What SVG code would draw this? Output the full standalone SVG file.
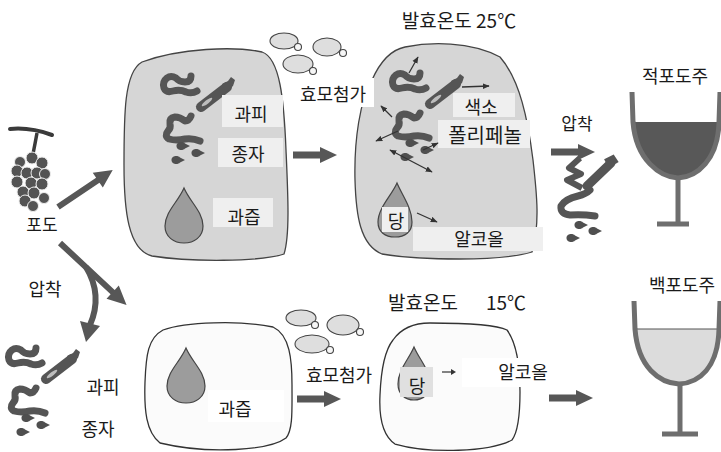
<svg xmlns="http://www.w3.org/2000/svg" xmlns:xlink="http://www.w3.org/1999/xlink" width="721" height="452" viewBox="0 0 721 452">
  <style>
    text { font-family: "Noto Sans CJK KR", "Noto Sans", sans-serif; fill: #1a1a1a; text-anchor: middle; }
    .lbl { font-size: 18px; }
    .big { font-size: 19px; }
    .blobTop { fill: #d6d6d6; stroke: #444; stroke-width: 1.3; }
    .blobLow { fill: #fbfbfb; stroke: #333; stroke-width: 1.3; }
    .box { fill: #efefef; }
    .wbox { fill: #ffffff; }
    .skin { fill: none; stroke: #555; stroke-width: 7; stroke-linecap: round; stroke-linejoin: round; }
    .seed { fill: #4f4f4f; }
    .drop { fill: #9c9c9c; stroke: #444; stroke-width: 1.2; }
    .fat { fill: #575757; }
    .thin { fill: none; stroke: #333; stroke-width: 1.3; marker-end: url(#tip); }
    .glass { fill: none; stroke: #6e6e6e; stroke-width: 5; stroke-linejoin: round; }
    .bubble { fill: #dedede; stroke: #444; stroke-width: 1.1; }
    .bud { fill: #f6f6f6; stroke: #444; stroke-width: 1.1; }
  </style>
  <defs>
    <marker id="tip" viewBox="0 0 10 10" refX="9" refY="5" markerWidth="7" markerHeight="7" orient="auto-start-reverse" markerUnits="userSpaceOnUse">
      <path d="M0,1 L10,5 L0,9 Z" fill="#333"/>
    </marker>
    <!-- block arrow, 44 long, pointing right from the origin -->
    <path id="fatArrow" class="fat" d="M0,-3.5 H27 V-8 L44,0 L27,8 V3.5 H0 Z"/>
    <!-- seed: small teardrop pointing right -->
    <path id="seed" class="seed" d="M-5.5,0 C-5.5,-4.5 1,-5 3,-2.5 L8,0 L3,2.5 C1,5 -5.5,4.5 -5.5,0 Z"/>
    <!-- grape skins and seeds, drawn at the first crushed-grape position -->
    <g id="skins">
      <path class="skin" d="M191,76 Q191,82 185,82 Q179,82 176,78 Q171,75 167,78 Q162,82 164,88 Q166,93 173,91 Q180,89 186,92 Q192,94 197,91"/>
      <path class="skin" d="M191,116 Q189,121 185,121 Q180,117 175,117 Q169,118 170,124 Q171,128 168,131 Q164,136 169,139 Q176,141 185,139 Q193,138 200,141"/>
      <path fill="none" stroke="#555" stroke-width="10" stroke-linecap="round" d="M227,87 L201,107"/>
      <path fill="#555" d="M222,84 L228,81 L231,77 L235,80 L233,86 L226,92 Z"/>
      <ellipse cx="207" cy="102" rx="6.5" ry="1.8" transform="rotate(-38 207 102)" fill="#bdbdbd"/>
      <use xlink:href="#seed" transform="translate(182,146)"/>
      <use xlink:href="#seed" transform="translate(197,153)"/>
      <use xlink:href="#seed" transform="translate(177,160)"/>
    </g>
    <path id="juice" class="drop" d="M184,188 C190,202 203,212 203,226 C203,237 194,243 184,243 C174,243 165,237 165,226 C165,212 178,202 184,188 Z"/>
  </defs>

  <!-- grape bunch -->
  <g id="grape">
    <path d="M10,129 Q30,127 52,135" fill="none" stroke="#3a3a3a" stroke-width="4" stroke-linecap="round"/>
    <path d="M37,133 Q35,144 33,154" fill="none" stroke="#3a3a3a" stroke-width="3.5"/>
    <g fill="#545454" stroke="#eee" stroke-width="1">
      <circle cx="32" cy="158" r="6"/>
      <circle cx="42" cy="163" r="6"/>
      <circle cx="20" cy="162" r="5.5"/>
      <circle cx="17" cy="171" r="6"/>
      <circle cx="27" cy="173" r="6"/>
      <circle cx="37" cy="173" r="6"/>
      <circle cx="45" cy="174" r="5.5"/>
      <circle cx="17" cy="182" r="6"/>
      <circle cx="31" cy="183" r="6"/>
      <circle cx="42" cy="184" r="6"/>
      <circle cx="23" cy="192" r="6"/>
      <circle cx="34" cy="193" r="6"/>
      <circle cx="44" cy="198" r="5.5"/>
      <circle cx="25" cy="201" r="6"/>
      <circle cx="33" cy="206" r="5.5"/>
    </g>
    <text class="lbl" x="42" y="231" style="font-size:17px">포도</text>
  </g>

  <!-- red wine route: crushed grapes in the vat -->
  <g id="vat-red">
    <path class="blobTop" d="M142,62 C180,48 235,46 262,52 C280,58 284,100 286,150 C288,195 290,235 284,254 C260,262 190,262 152,256 C128,250 124,210 124,165 C124,115 124,72 142,62 Z"/>
    <use xlink:href="#skins"/>
    <use xlink:href="#juice"/>
    <rect class="box" x="222" y="95" width="61" height="32"/>
    <rect class="box" x="218" y="138" width="65" height="29"/>
    <rect class="box" x="213" y="198" width="60" height="29"/>
    <text class="lbl" x="251" y="121">과피</text>
    <text class="lbl" x="248" y="161">종자</text>
    <text class="lbl" x="244" y="224">과즙</text>
  </g>

  <!-- yeast cells, upper row -->
  <g id="yeast-red">
    <ellipse class="bubble" cx="284" cy="41" rx="14" ry="8"/>
    <circle class="bud" cx="298" cy="47" r="3.5"/>
    <ellipse class="bubble" cx="327" cy="47" rx="14" ry="9"/>
    <circle class="bud" cx="343" cy="53" r="3.5"/>
    <ellipse class="bubble" cx="298" cy="64" rx="15" ry="9"/>
    <circle class="bud" cx="313" cy="71" r="3.5"/>
  </g>

  <!-- fermentation at 25 degrees -->
  <g id="ferment-red">
    <path class="blobTop" d="M372,80 C380,62 390,50 405,47 C430,42 470,41 500,57 C520,80 528,120 533,160 C537,195 540,225 532,252 C500,262 420,260 382,254 C360,245 356,215 355,180 C354,140 360,100 372,80 Z"/>
    <use xlink:href="#skins" transform="translate(229,-3)"/>
    <path class="drop" d="M397,183 C402,195 412,208 412,222 C412,232 405,237 395,237 C385,237 378,232 378,222 C378,208 392,195 397,183 Z"/>
    <rect class="box" x="382" y="207" width="26" height="25"/>
    <rect class="box" x="453" y="93" width="62" height="24"/>
    <rect class="box" x="438" y="120" width="92" height="28"/>
    <rect class="box" x="413" y="227" width="130" height="24"/>
    <text class="big" x="459" y="28">발효온도 25℃</text>
    <text class="lbl" x="481" y="114">색소</text>
    <text class="lbl" x="485" y="143" style="font-size:20px">폴리페놀</text>
    <text class="lbl" x="396" y="228">당</text>
    <text class="lbl" x="479" y="246">알코올</text>
  </g>

  <rect class="wbox" x="292" y="78" width="82" height="29"/>
  <text class="lbl" x="333" y="101">효모첨가</text>

  <!-- pressing after fermentation -->
  <g id="press-red">
    <path fill="none" stroke="#555" stroke-width="6" stroke-linejoin="round" d="M580,158 L569,168 L581,174 L567,180 L582,188"/>
    <path fill="none" stroke="#555" stroke-width="9" stroke-linecap="round" d="M611,163 L587,186"/>
    <path fill="none" stroke="#555" stroke-width="4" d="M605,161 L613,157 L617,163"/>
    <path class="skin" d="M590,190 Q586,194 578,196 Q565,199 561,206 Q560,214 570,215 Q582,214 595,216"/>
    <use xlink:href="#seed" transform="translate(580,225)"/>
    <use xlink:href="#seed" transform="translate(594,231)"/>
    <use xlink:href="#seed" transform="translate(572,238)"/>
    <use xlink:href="#fatArrow" transform="translate(551,152)"/>
    <text class="lbl" x="577" y="130" style="font-size:17px">압착</text>
  </g>

  <!-- red wine glass -->
  <g id="glass-red">
    <path fill="#585858" d="M634,122 L719,122 C718,160 697,177 678,178 C660,177 636,160 634,122 Z"/>
    <path class="glass" d="M632,92 L633,122 C636,160 660,177 678,178 C697,177 718,160 719,122 L720,92"/>
    <path class="glass" d="M678,178 V223 M657,224 H689"/>
    <text class="lbl" x="675" y="83">적포도주</text>
  </g>

  <!-- white wine route: skins and seeds pressed off -->
  <g id="pressed-skins">
    <use xlink:href="#skins" transform="translate(-155,272)"/>
    <text class="lbl" x="103" y="394">과피</text>
    <text class="lbl" x="98" y="436">종자</text>
  </g>

  <g id="vat-white">
    <path class="blobLow" d="M163,330 C185,322 240,320 273,327 C290,335 292,360 292,385 C292,410 293,430 286,438 C270,450 210,455 160,443 C146,432 144,410 145,382 C146,355 148,338 163,330 Z"/>
    <use xlink:href="#juice" transform="translate(2,160)"/>
    <rect class="wbox" x="208" y="390" width="76" height="32"/>
    <text class="lbl" x="235" y="416">과즙</text>
  </g>

  <g id="yeast-white">
    <ellipse class="bubble" cx="301" cy="318" rx="15" ry="8"/>
    <circle class="bud" cx="315" cy="325" r="3.5"/>
    <ellipse class="bubble" cx="343" cy="325" rx="16" ry="10"/>
    <circle class="bud" cx="360" cy="332" r="3.5"/>
    <ellipse class="bubble" cx="312" cy="344" rx="17" ry="9"/>
    <circle class="bud" cx="330" cy="350" r="3.5"/>
  </g>

  <!-- fermentation at 15 degrees -->
  <g id="ferment-white">
    <path class="blobLow" d="M393,340 C400,330 412,323 430,323 C460,323 495,324 507,330 C518,345 520,370 520,392 C520,415 518,432 512,440 C490,452 430,454 395,444 C382,435 379,415 380,395 C381,370 385,350 393,340 Z"/>
    <path class="drop" d="M414,347 C419,359 430,370 430,384 C430,394 423,400 414,400 C405,400 398,394 398,384 C398,370 409,359 414,347 Z"/>
    <rect x="400" y="367" width="33" height="30" fill="#e0e0e0"/>
    <text class="lbl" x="417" y="393">당</text>
    <path fill="none" stroke="#333" stroke-width="1.2" d="M442,372 H452"/>
    <path fill="#333" d="M451,369 L456,372 L451,375 Z"/>
    <rect class="wbox" x="462" y="358" width="98" height="29"/>
    <text class="lbl" x="523" y="379">알코올</text>
    <text class="big" x="423" y="310">발효온도</text>
    <text class="big" x="506" y="310">15℃</text>
  </g>

  <rect class="wbox" x="294" y="360" width="84" height="27"/>
  <text class="lbl" x="339" y="382">효모첨가</text>

  <!-- white wine glass -->
  <g id="glass-white">
    <path fill="#dcdcdc" d="M635,329 L719,329 C718,368 699,383 679,384 C660,383 638,368 635,329 Z"/>
    <path fill="none" stroke="#555" stroke-width="1.2" d="M635,329 H719"/>
    <path class="glass" d="M634,301 L635,329 C638,368 660,383 679,384 C699,383 718,368 719,329 L720,301"/>
    <path class="glass" d="M680,384 V433 M662,434 H698"/>
    <text class="lbl" x="682" y="292">백포도주</text>
  </g>

  <!-- connectors -->
  <g id="connectors">
    <path class="fat" transform="translate(58,207) rotate(-34)" d="M0,-3 H48 V-9 L66,0 L48,9 V3 H0 Z"/>
    <path class="fat" transform="translate(60,243) rotate(43)" d="M0,-3 H72 V-9 L91,0 L72,9 V3 H0 Z"/>
    <path fill="none" stroke="#575757" stroke-width="6" d="M86,267 Q103,295 90,325"/>
    <path class="fat" d="M80,321 L100,326 L86,342 Z"/>
    <use xlink:href="#fatArrow" transform="translate(293,155)"/>
    <use xlink:href="#fatArrow" transform="translate(297,399)"/>
    <use xlink:href="#fatArrow" transform="translate(549,398)"/>
    <path class="thin" d="M409,73 L418,57"/>
    <path class="thin" d="M462,87 L489,86"/>
    <path class="thin" d="M392,117 L381,106"/>
    <path class="thin" d="M398,131 L376,141"/>
    <path class="thin" d="M423,150 L438,143"/>
    <path class="thin" style="marker-start:url(#tip)" d="M390,150 L432,172"/>
    <path class="thin" d="M417,213 L437,222"/>
  </g>
  <text class="lbl" x="45" y="296">압착</text>
</svg>
